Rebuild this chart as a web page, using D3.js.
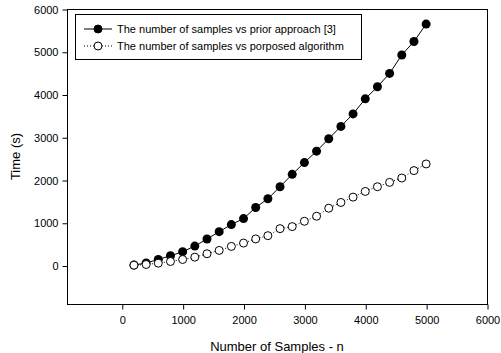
<!DOCTYPE html>
<html>
<head>
<meta charset="utf-8">
<script src="https://cdn.jsdelivr.net/npm/d3@7"></script>
<style>
    body { margin: 0; background: #fff; }
    svg { display: block; font-family: "Liberation Sans", Arial, sans-serif; }
</style>
</head>
<body>
<div id="chart"></div>
<script>
// Data
const samples = [200, 400, 600, 800, 1000, 1200, 1400, 1600, 1800, 2000, 2200, 2400, 2600,
    2800, 3000, 3200, 3400, 3600, 3800, 4000, 4200, 4400, 4600, 4800, 5000];
const priorTimes = [10, 60, 141, 228, 322, 455, 620, 792, 957, 1098, 1357, 1561, 1843,
    2133, 2408, 2675, 2965, 3254, 3546, 3899, 4181, 4494, 4925, 5240, 5647];
const proposedTimes = [8, 24, 55, 94, 141, 196, 275, 353, 447, 525, 622, 698, 863,
    910, 1035, 1153, 1341, 1475, 1600, 1733, 1843, 1945, 2047, 2220, 2376];
const xTicks = [0, 1000, 2000, 3000, 4000, 5000, 6000];
const yTicks = [0, 1000, 2000, 3000, 4000, 5000, 6000];
const seriesNames = ["The number of samples vs prior approach [3]",
    "The number of samples vs porposed algorithm"];

const W = 501, H = 353;
const margin = { top: 9, right: 14, bottom: 49, left: 67 },
    width = W - margin.left - margin.right,
    height = H - margin.top - margin.bottom;

const svg = d3.select("#chart")
    .append("svg")
    .attr("width", W)
    .attr("height", H);

const g = svg.append("g")
    .attr("transform", `translate(${margin.left},${margin.top})`);

// Scales
const x = d3.scaleLinear().domain([-900, 6000]).range([0, width]);
const y = d3.scaleLinear().domain([-900, 6000]).range([height, 0]);

// Frame
g.append("rect")
    .attr("x", 0.5).attr("y", 0.5)
    .attr("width", width).attr("height", height)
    .attr("fill", "none")
    .attr("stroke", "#000")
    .attr("stroke-width", 1);

// Axes (plain integer labels, no thousands separator)
const xAxis = g.append("g")
    .attr("transform", `translate(0.5, ${height + 0.5})`)
    .call(d3.axisBottom(x).tickValues(xTicks).tickFormat(d3.format("d"))
        .tickSize(5).tickPadding(7).tickSizeOuter(0));
const yAxis = g.append("g")
    .attr("transform", "translate(0.5, 0.5)")
    .call(d3.axisLeft(y).tickValues(yTicks).tickFormat(d3.format("d"))
        .tickSize(5).tickPadding(4).tickSizeOuter(0));

[xAxis, yAxis].forEach(a => {
    a.select(".domain").remove();
    a.selectAll("text").attr("font-size", 11).attr("fill", "#000")
        .attr("font-family", "Liberation Sans, Arial, sans-serif");
});

// Axis titles
svg.append("text")
    .attr("x", margin.left + width / 2)
    .attr("y", 351)
    .attr("text-anchor", "middle")
    .attr("font-size", 13)
    .text("Number of Samples - n");

svg.append("text")
    .attr("transform", `translate(20, ${margin.top + height / 2}) rotate(-90)`)
    .attr("text-anchor", "middle")
    .attr("font-size", 13)
    .text("Time (s)");

const prior = samples.map((n, i) => ({ n, t: priorTimes[i] }));
const proposed = samples.map((n, i) => ({ n, t: proposedTimes[i] }));

const line = d3.line().x(d => x(d.n)).y(d => y(d.t));

// Prior approach: solid line with filled circles
g.append("path")
    .datum(prior)
    .attr("fill", "none")
    .attr("stroke", "#000")
    .attr("stroke-width", 1)
    .attr("d", line);

g.selectAll(".dot-prior")
    .data(prior)
    .enter()
    .append("circle")
    .attr("cx", d => x(d.n))
    .attr("cy", d => y(d.t))
    .attr("r", 4.5)
    .attr("fill", "#000");

// Proposed algorithm: dotted line with open circles
g.append("path")
    .datum(proposed)
    .attr("fill", "none")
    .attr("stroke", "#000")
    .attr("stroke-width", 1)
    .attr("stroke-dasharray", "1,2")
    .attr("d", line);

g.selectAll(".dot-proposed")
    .data(proposed)
    .enter()
    .append("circle")
    .attr("cx", d => x(d.n))
    .attr("cy", d => y(d.t))
    .attr("r", 4)
    .attr("fill", "#fff")
    .attr("stroke", "#000")
    .attr("stroke-width", 1);

// Legend
const legend = svg.append("g");
legend.append("rect")
    .attr("x", 75.5).attr("y", 14.5)
    .attr("width", 286).attr("height", 45)
    .attr("fill", "#fff")
    .attr("stroke", "#000");

const rows = [
    { yy: 29, dash: null, fill: "#000" },
    { yy: 46, dash: "1,2", fill: "#fff" }
];
rows.forEach((r, i) => {
    legend.append("line")
        .attr("x1", 84).attr("x2", 112)
        .attr("y1", r.yy).attr("y2", r.yy)
        .attr("stroke", "#000")
        .attr("stroke-dasharray", r.dash);
    legend.append("circle")
        .attr("cx", 98).attr("cy", r.yy)
        .attr("r", 4)
        .attr("fill", r.fill)
        .attr("stroke", "#000");
    legend.append("text")
        .attr("x", 117).attr("y", r.yy + 4)
        .attr("font-size", 11)
        .text(seriesNames[i]);
});
</script>
</body>
</html>
